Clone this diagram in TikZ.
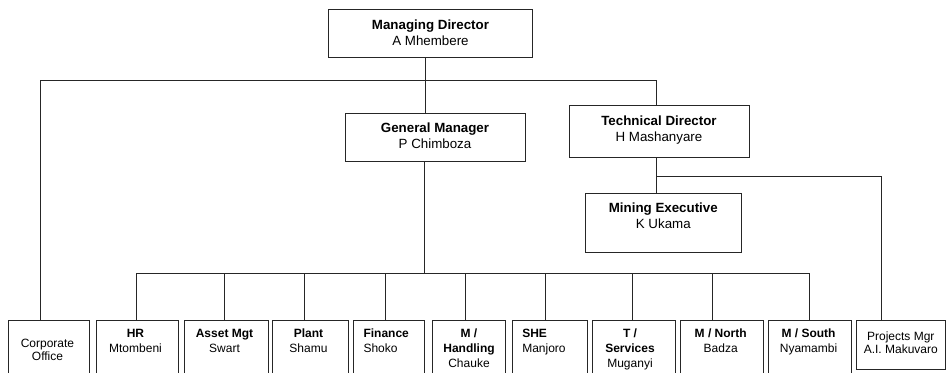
\documentclass[tikz,border=0pt]{standalone}
\usepackage{fontspec}
\setmainfont{Liberation Sans}
\usetikzlibrary{fit,calc}
\begin{document}
\begin{tikzpicture}[x=0.75pt,y=-0.75pt,
  box/.style={draw=black!85, line width=0.7pt, inner sep=0pt, fit={#1}},
  toptxt/.style={font=\fontsize{10}{12}\selectfont, align=center, inner sep=0pt, anchor=north},
  bottxt/.style={font=\fontsize{9}{11.25}\selectfont, align=center, inner sep=0pt, anchor=north},
  lefttxt/.style={font=\fontsize{9}{11.25}\selectfont, align=left, inner sep=0pt, anchor=north west},
  plaintxt/.style={font=\fontsize{9}{10}\selectfont, align=center, inner sep=0pt, anchor=north},
  link/.style={draw=black!85, line width=0.7pt}
]
\useasboundingbox (0,0) rectangle (946,373);
\clip (0,0) rectangle (946,373);

% upper boxes
\node[box={(328.3,9.3) (532.7,57.3)}] (md) {};
\node[toptxt] (mdT) at (430.5,19.5) {\textbf{Managing Director}\\A Mhembere};
\node[box={(345,113.3) (525,161)}] (gm) {};
\node[toptxt] (gmT) at (435,123) {\textbf{General Manager}\\P Chimboza};
\node[box={(569,105.7) (749.3,157)}] (td) {};
\node[toptxt] (tdT) at (659,115.3) {\textbf{Technical Director}\\H Mashanyare};
\node[box={(585,193.3) (741.7,252.7)}] (me) {};
\node[toptxt] (meT) at (663.3,202.5) {\textbf{Mining Executive}\\K Ukama};

% bottom boxes
\node[box={(8.3,320.7) (89,395)}] (co) {};
\node[plaintxt] (coT) at (47.5,339) {Corporate\\Office};
\node[box={(96.7,320.7) (178,395)}] (hr) {};
\node[bottxt] (hrT) at (135.5,328.5) {\textbf{HR}\\Mtombeni};
\node[box={(184.3,320.7) (268,395)}] (am) {};
\node[bottxt] (amT) at (224.5,328.5) {\textbf{Asset Mgt}\\Swart};
\node[box={(272.7,320.7) (348,395)}] (pl) {};
\node[bottxt] (plT) at (308.5,328.5) {\textbf{Plant}\\Shamu};
\node[box={(353.3,320.7) (424,395)}] (fi) {};
\node[lefttxt] (fiT) at (363.3,328.5) {\textbf{Finance}\\Shoko};
\node[box={(432.5,320.7) (505.5,395)}] (mh) {};
\node[bottxt] (mhT) at (469,328.5) {\textbf{M /}\\\textbf{Handling}\\Chauke};
\node[box={(512,320.7) (587,395)}] (sh) {};
\node[lefttxt] (shT) at (522,328.5) {\textbf{SHE}\\Manjoro};
\node[box={(592.7,320.7) (675,395)}] (ts) {};
\node[bottxt] (tsT) at (630,328.5) {\textbf{T /}\\\textbf{Services}\\Muganyi};
\node[box={(680.3,320.7) (763.7,395)}] (mn) {};
\node[bottxt] (mnT) at (720.7,328.5) {\textbf{M / North}\\Badza};
\node[box={(768.3,320.7) (851.7,395)}] (ms) {};
\node[bottxt] (msT) at (808.5,328.5) {\textbf{M / South}\\Nyamambi};
\node[box={(856.7,320.7) (945,369.3)}] (pm) {};
\node[plaintxt] (pmT) at (900.8,331.3) {Projects Mgr\\A.I. Makuvaro};

% junctions
\coordinate (jm) at (425,80.7);
\coordinate (jl) at (40.7,80.7);
\coordinate (jr) at (656,80.7);
\coordinate (jt) at (656,176.7);
\coordinate (jp) at (881.7,176.7);
\coordinate (b0) at (424.3,273.3);
\coordinate (b1) at (136.7,273.3);
\coordinate (b2) at (224.3,273.3);
\coordinate (b3) at (304.3,273.3);
\coordinate (b4) at (385,273.3);
\coordinate (b5) at (465.7,273.3);
\coordinate (b6) at (545,273.3);
\coordinate (b7) at (632.7,273.3);
\coordinate (b8) at (712.7,273.3);
\coordinate (b9) at (809.3,273.3);

% connectors
\draw[link] (md.south -| jm) -- (gm.north -| jm);
\draw[link] (co.north -| jl) -- (jl) -- (jr) -- (td.north -| jr);
\draw[link] (td.south -| jt) -- (me.north -| jt);
\draw[link] (jt) -- (jp) -- (pm.north -| jp);
\draw[link] (gm.south -| b0) -- (b0);
\draw[link] (b1) -- (b9);
\draw[link] (b1) -- (hr.north -| b1);
\draw[link] (b2) -- (am.north -| b2);
\draw[link] (b3) -- (pl.north -| b3);
\draw[link] (b4) -- (fi.north -| b4);
\draw[link] (b5) -- (mh.north -| b5);
\draw[link] (b6) -- (sh.north -| b6);
\draw[link] (b7) -- (ts.north -| b7);
\draw[link] (b8) -- (mn.north -| b8);
\draw[link] (b9) -- (ms.north -| b9);
\end{tikzpicture}
\end{document}
